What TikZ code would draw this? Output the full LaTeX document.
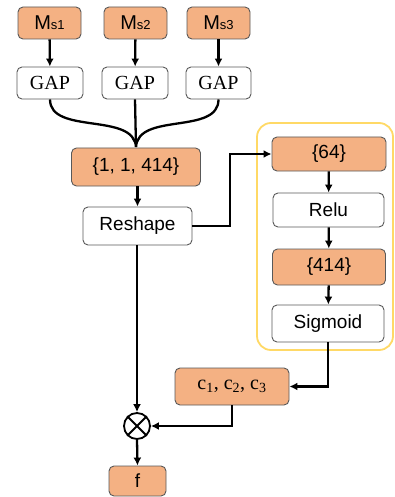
\documentclass[tikz,border=0pt]{standalone}
\usepackage{fontspec}
\setmainfont{Liberation Serif}
\setsansfont{Liberation Sans}
\usetikzlibrary{arrows.meta,positioning}
\definecolor{boxor}{HTML}{F4B183}
\definecolor{boxedge}{HTML}{595959}
\definecolor{ylw}{HTML}{FFD966}
\tikzset{
  base/.style={draw=boxedge, line width=0.9pt, rounded corners=5pt, inner sep=0pt, font=\sffamily\fontsize{19}{22}\selectfont},
  orbox/.style={base, fill=boxor},
  whbox/.style={base, fill=white},
  conn/.style={line width=2.3pt, -{Latex[length=8pt,width=8pt]}},
  plain/.style={line width=2.3pt}
}
\begin{document}
\begin{tikzpicture}[x=1pt,y=-1pt]
\useasboundingbox (0,0) rectangle (395,497);
% yellow container
\draw[ylw, line width=1.8pt, rounded corners=14pt] (257,123) rectangle (393,350);
% top inputs
\node[orbox, minimum width=63pt, minimum height=32pt] (ms1) at (49.5,23) {\fontsize{20}{22}\selectfont M\fontsize{13}{15}\selectfont s1};
\node[orbox, minimum width=63pt, minimum height=32pt] (ms2) at (135.5,23) {\fontsize{20}{22}\selectfont M\fontsize{13}{15}\selectfont s2};
\node[orbox, minimum width=63pt, minimum height=32pt] (ms3) at (218.5,23) {\fontsize{20}{22}\selectfont M\fontsize{13}{15}\selectfont s3};
% GAP
\node[whbox, minimum width=66pt, minimum height=32pt, font=\rmfamily\fontsize{20}{22}\selectfont] (g1) at (50,83) {GAP};
\node[whbox, minimum width=66pt, minimum height=32pt, font=\rmfamily\fontsize{20}{22}\selectfont] (g2) at (135,83) {GAP};
\node[whbox, minimum width=65pt, minimum height=32pt, font=\rmfamily\fontsize{20}{22}\selectfont] (g3) at (218.5,83) {GAP};
% main column
\node[orbox, minimum width=129pt, minimum height=38pt] (t) at (136,167) {\{1, 1, 414\}};
\node[whbox, minimum width=109pt, minimum height=38pt] (rs) at (137.5,226) {Reshape};
% right column
\node[orbox, minimum width=114pt, minimum height=34pt] (n64) at (329,154) {\{64\}};
\node[whbox, minimum width=111pt, minimum height=34pt] (relu) at (328.5,210) {Relu};
\node[orbox, minimum width=113pt, minimum height=36pt] (n414) at (329,267) {\{414\}};
\node[whbox, minimum width=112pt, minimum height=37pt] (sig) at (328,323.5) {Sigmoid};
% bottom
\node[orbox, minimum width=114pt, minimum height=37pt, font=\rmfamily\fontsize{20}{22}\selectfont] (c) at (232,386.5) {c$_{\mathrm{1}}$, c$_{\mathrm{2}}$, c$_{\mathrm{3}}$};
\node[draw, line width=1.8pt, circle, minimum size=26pt, inner sep=0pt] (ot) at (137,426) {};
\draw[line width=1.8pt] (ot.north west) -- (ot.south east) (ot.north east) -- (ot.south west);
\node[orbox, minimum width=57pt, minimum height=30pt] (f) at (137.5,481) {f};
% coordinates
\coordinate (merge) at (136,147);
\coordinate (bend) at (230,226);
% connectors
\draw[conn] (ms1) -- (g1);
\draw[conn] (ms2) -- (g2);
\draw[conn] (ms3) -- (g3);
\draw[plain] (g1.south) .. controls (50,135) and (134,112) .. (merge);
\draw[plain] (g3.south) .. controls (218.5,135) and (138,112) .. (merge);
\draw[conn] (g2.south) -- (merge);
\draw[conn] (t.south -| rs.north) -- (rs.north);
\draw[conn] (rs.east) -- (bend) |- (n64.west);
\draw[conn] (n64) -- (relu);
\draw[conn] (relu) -- (n414);
\draw[conn] (n414) -- (sig);
\draw[conn] (sig.south) |- (c.east);
\draw[conn] (c.south) |- (ot.east);
\draw[conn] (rs.south -| ot.north) -- (ot.north);
\draw[conn] (ot.south) -- (f.north);
\end{tikzpicture}
\end{document}
